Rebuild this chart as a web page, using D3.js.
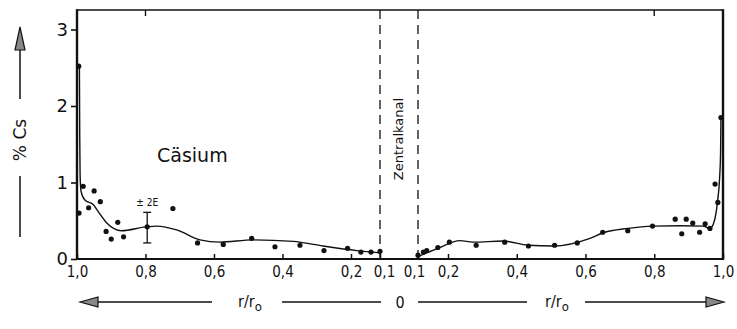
<!DOCTYPE html>
<html><head><meta charset="utf-8">
<script src="https://cdn.jsdelivr.net/npm/d3@7"></script>
<style>html,body{margin:0;padding:0;background:#fff;}svg{display:block;}</style>
</head><body>
<svg id="c" width="737" height="329"></svg>
<script>
// ---- data ----
const yTicks = [0, 1, 2, 3];
const leftTicks = [1.0, 0.8, 0.6, 0.4, 0.2, 0.1];
const rightTicks = [0.1, 0.2, 0.4, 0.6, 0.8, 1.0];
const tickLabel = v => d3.format(".1f")(v).replace(".", ",");
// measured points, left half (r/r0, % Cs)
const leftR = [0.995, 0.982, 0.966, 0.95, 0.932, 0.915, 0.90, 0.881, 0.864, 0.795, 0.72, 0.648, 0.573, 0.49, 0.422, 0.349, 0.279, 0.21, 0.166, 0.131, 0.10];
const leftV = [2.52, 0.95, 0.67, 0.89, 0.75, 0.36, 0.26, 0.48, 0.29, 0.42, 0.66, 0.21, 0.19, 0.27, 0.16, 0.18, 0.11, 0.14, 0.09, 0.09, 0.10];
const leftR2 = [0.994];
const leftV2 = [0.60];
// measured points, right half
const rightR = [0.10, 0.118, 0.129, 0.166, 0.204, 0.282, 0.365, 0.434, 0.51, 0.576, 0.65, 0.723, 0.795, 0.861, 0.88, 0.893, 0.912, 0.932, 0.948, 0.962, 0.977, 0.985, 0.994];
const rightV = [0.05, 0.09, 0.11, 0.15, 0.22, 0.18, 0.22, 0.17, 0.18, 0.21, 0.35, 0.37, 0.43, 0.52, 0.33, 0.52, 0.47, 0.35, 0.46, 0.40, 0.98, 0.74, 1.85];
// fitted curve, left half
const curveLR = [0.993, 0.992, 0.991, 0.988, 0.977, 0.952, 0.935, 0.913, 0.87, 0.80, 0.767, 0.709, 0.641, 0.583, 0.486, 0.369, 0.282, 0.18, 0.10];
const curveLV = [2.52, 1.60, 1.10, 0.88, 0.77, 0.71, 0.60, 0.47, 0.37, 0.42, 0.43, 0.38, 0.25, 0.22, 0.25, 0.23, 0.17, 0.11, 0.08];
// fitted curve, right half
const curveRR = [0.10, 0.166, 0.235, 0.273, 0.36, 0.433, 0.506, 0.613, 0.65, 0.723, 0.795, 0.875, 0.942, 0.962, 0.975, 0.984, 0.99, 0.993, 0.994];
const curveRV = [0.03, 0.14, 0.24, 0.22, 0.235, 0.18, 0.17, 0.27, 0.34, 0.40, 0.43, 0.435, 0.43, 0.40, 0.50, 0.75, 1.05, 1.40, 1.85];
// error bar (±2E)
const errR = [0.795];
const errLo = [0.21];
const errHi = [0.61];
const channelR = [0.1];

// ---- layout ----
const svg = d3.select("#c");
const X0 = 77, X1 = 723, Y0 = 259, Y1 = 10;
const y = d3.scaleLinear().domain([0, 3]).range([Y0, Y0 - 3 * 76.5]);
const xL = d3.scaleLinear().domain([1.0, 0.2, 0.1]).range([X0, 351, 380]);
const xR = d3.scaleLinear().domain([0.1, 0.2, 1.0]).range([418, 448, X1]);
const ink = "#111";
const fontC = "'DejaVu Sans Condensed','DejaVu Sans',sans-serif";

// dashed central channel lines
svg.append("line").attr("x1", xL(channelR[0])).attr("x2", xL(channelR[0]))
  .attr("y1", Y1).attr("y2", Y0).attr("stroke", ink).attr("stroke-width", 1.3).attr("stroke-dasharray", "9,6");
svg.append("line").attr("x1", xR(channelR[0])).attr("x2", xR(channelR[0]))
  .attr("y1", Y1).attr("y2", Y0).attr("stroke", ink).attr("stroke-width", 1.3).attr("stroke-dasharray", "9,6");

// frame
svg.append("line").attr("x1", X0).attr("x2", X1).attr("y1", Y1).attr("y2", Y1).attr("stroke", ink).attr("stroke-width", 1.6);
svg.append("line").attr("x1", X0).attr("x2", X1).attr("y1", Y0).attr("y2", Y0).attr("stroke", ink).attr("stroke-width", 2);
svg.append("line").attr("x1", X0).attr("x2", X0).attr("y1", Y1 - 0.8).attr("y2", Y0 + 1).attr("stroke", ink).attr("stroke-width", 2.4);
svg.append("line").attr("x1", X1).attr("x2", X1).attr("y1", Y1 - 0.8).attr("y2", Y0 + 1).attr("stroke", ink).attr("stroke-width", 2.4);

// y axis
const ya = svg.append("g").attr("transform", `translate(${X0},0)`)
  .call(d3.axisLeft(y).tickValues(yTicks).tickFormat(d3.format("d")).tickSize(6).tickPadding(3));
ya.select(".domain").remove();
ya.selectAll("line").attr("stroke", ink).attr("stroke-width", 1.6);
ya.selectAll("text").attr("font-family", "'DejaVu Sans',sans-serif").attr("font-size", 18).attr("fill", ink);

// x axes
function xAxis(scale, ticks, nudge) {
  const g = svg.append("g").attr("transform", `translate(0,${Y0})`)
    .call(d3.axisBottom(scale).tickValues(ticks).tickFormat(tickLabel).tickSizeInner(-5).tickSizeOuter(0).tickPadding(7));
  g.select(".domain").remove();
  g.selectAll("line").attr("stroke", ink).attr("stroke-width", 1.5);
  g.selectAll("text").attr("font-family", fontC).attr("font-size", 15).attr("fill", ink)
    .attr("dx", d => d === 0.1 ? nudge : 0);
  // top inner tick at 0.8
  svg.append("line").attr("x1", scale(0.8)).attr("x2", scale(0.8)).attr("y1", Y1).attr("y2", Y1 + 6)
    .attr("stroke", ink).attr("stroke-width", 1.4);
}
xAxis(xL, leftTicks, 4);
xAxis(xR, rightTicks, -4);

// curves
const lineL = d3.line().x(i => xL(curveLR[i])).y(i => y(curveLV[i])).curve(d3.curveMonotoneX);
const lineR = d3.line().x(i => xR(curveRR[i])).y(i => y(curveRV[i])).curve(d3.curveMonotoneX);
svg.append("path").attr("d", lineL(d3.range(curveLR.length))).attr("fill", "none").attr("stroke", ink).attr("stroke-width", 1.4);
svg.append("path").attr("d", lineR(d3.range(curveRR.length))).attr("fill", "none").attr("stroke", ink).attr("stroke-width", 1.4);

// points
svg.append("g").selectAll("circle").data(d3.range(leftR.length)).join("circle")
  .attr("cx", i => xL(leftR[i])).attr("cy", i => y(leftV[i])).attr("r", 2.6).attr("fill", ink);
svg.append("g").selectAll("circle").data(d3.range(leftR2.length)).join("circle")
  .attr("cx", i => xL(leftR2[i])).attr("cy", i => y(leftV2[i])).attr("r", 2.6).attr("fill", ink);
svg.append("g").selectAll("circle").data(d3.range(rightR.length)).join("circle")
  .attr("cx", i => xR(rightR[i])).attr("cy", i => y(rightV[i])).attr("r", 2.6).attr("fill", ink);

// error bar
errR.forEach((r, i) => {
  const ex = xL(r);
  svg.append("line").attr("x1", ex).attr("x2", ex).attr("y1", y(errLo[i])).attr("y2", y(errHi[i])).attr("stroke", ink).attr("stroke-width", 1.3);
  [errLo[i], errHi[i]].forEach(v => svg.append("line").attr("x1", ex - 4).attr("x2", ex + 4).attr("y1", y(v)).attr("y2", y(v)).attr("stroke", ink).attr("stroke-width", 1.3));
  svg.append("text").attr("x", ex).attr("y", y(errHi[i]) - 6).attr("text-anchor", "middle")
    .attr("font-family", fontC).attr("font-size", 10).attr("fill", ink).text("± 2E");
});

// texts in plot
svg.append("text").attr("x", 157).attr("y", 162).attr("font-family", "'DejaVu Sans',sans-serif")
  .attr("font-size", 19).attr("fill", ink).text("Cäsium");
svg.append("text").attr("transform", `translate(${(xL(0.1) + xR(0.1)) / 2 + 4},139) rotate(-90)`)
  .attr("text-anchor", "middle").attr("font-family", "'DejaVu Sans',sans-serif").attr("font-size", 13)
  .attr("fill", ink).text("Zentralkanal");

// y label with arrow
const yl = svg.append("g");
yl.append("text").attr("transform", "translate(26,140) rotate(-90)").attr("text-anchor", "middle")
  .attr("font-family", "'DejaVu Sans',sans-serif").attr("font-size", 17).attr("fill", ink).text("% Cs");
yl.append("line").attr("x1", 20).attr("x2", 20).attr("y1", 48).attr("y2", 99).attr("stroke", ink).attr("stroke-width", 1.5);
yl.append("line").attr("x1", 20).attr("x2", 20).attr("y1", 176).attr("y2", 237).attr("stroke", ink).attr("stroke-width", 1.5);
yl.append("path").attr("d", "M20,27 L25,50 L15,50 Z").attr("fill", "#888").attr("stroke", ink).attr("stroke-width", 1.2);

// bottom r/r0 arrow
const ba = svg.append("g");
const AY = 302;
[[97, 212], [282, 381], [418, 527], [585, 706]].forEach(s =>
  ba.append("line").attr("x1", s[0]).attr("x2", s[1]).attr("y1", AY).attr("y2", AY).attr("stroke", ink).attr("stroke-width", 1.3));
ba.append("path").attr("d", `M80,${AY} L98,${AY - 5} L98,${AY + 5} Z`).attr("fill", "#888").attr("stroke", ink).attr("stroke-width", 1.2);
ba.append("path").attr("d", `M724,${AY} L706,${AY - 5} L706,${AY + 5} Z`).attr("fill", "#888").attr("stroke", ink).attr("stroke-width", 1.2);
[250, 557].forEach(cx => {
  const t = ba.append("text").attr("x", cx).attr("y", AY + 5).attr("text-anchor", "middle")
    .attr("font-family", fontC).attr("font-size", 16).attr("fill", ink);
  t.append("tspan").text("r/r");
  t.append("tspan").attr("font-size", 13).attr("dy", 4).text("o");
});
ba.append("text").attr("x", 400).attr("y", AY + 6).attr("text-anchor", "middle")
  .attr("font-family", fontC).attr("font-size", 16).attr("fill", ink).text("0");
</script>
</body></html>
